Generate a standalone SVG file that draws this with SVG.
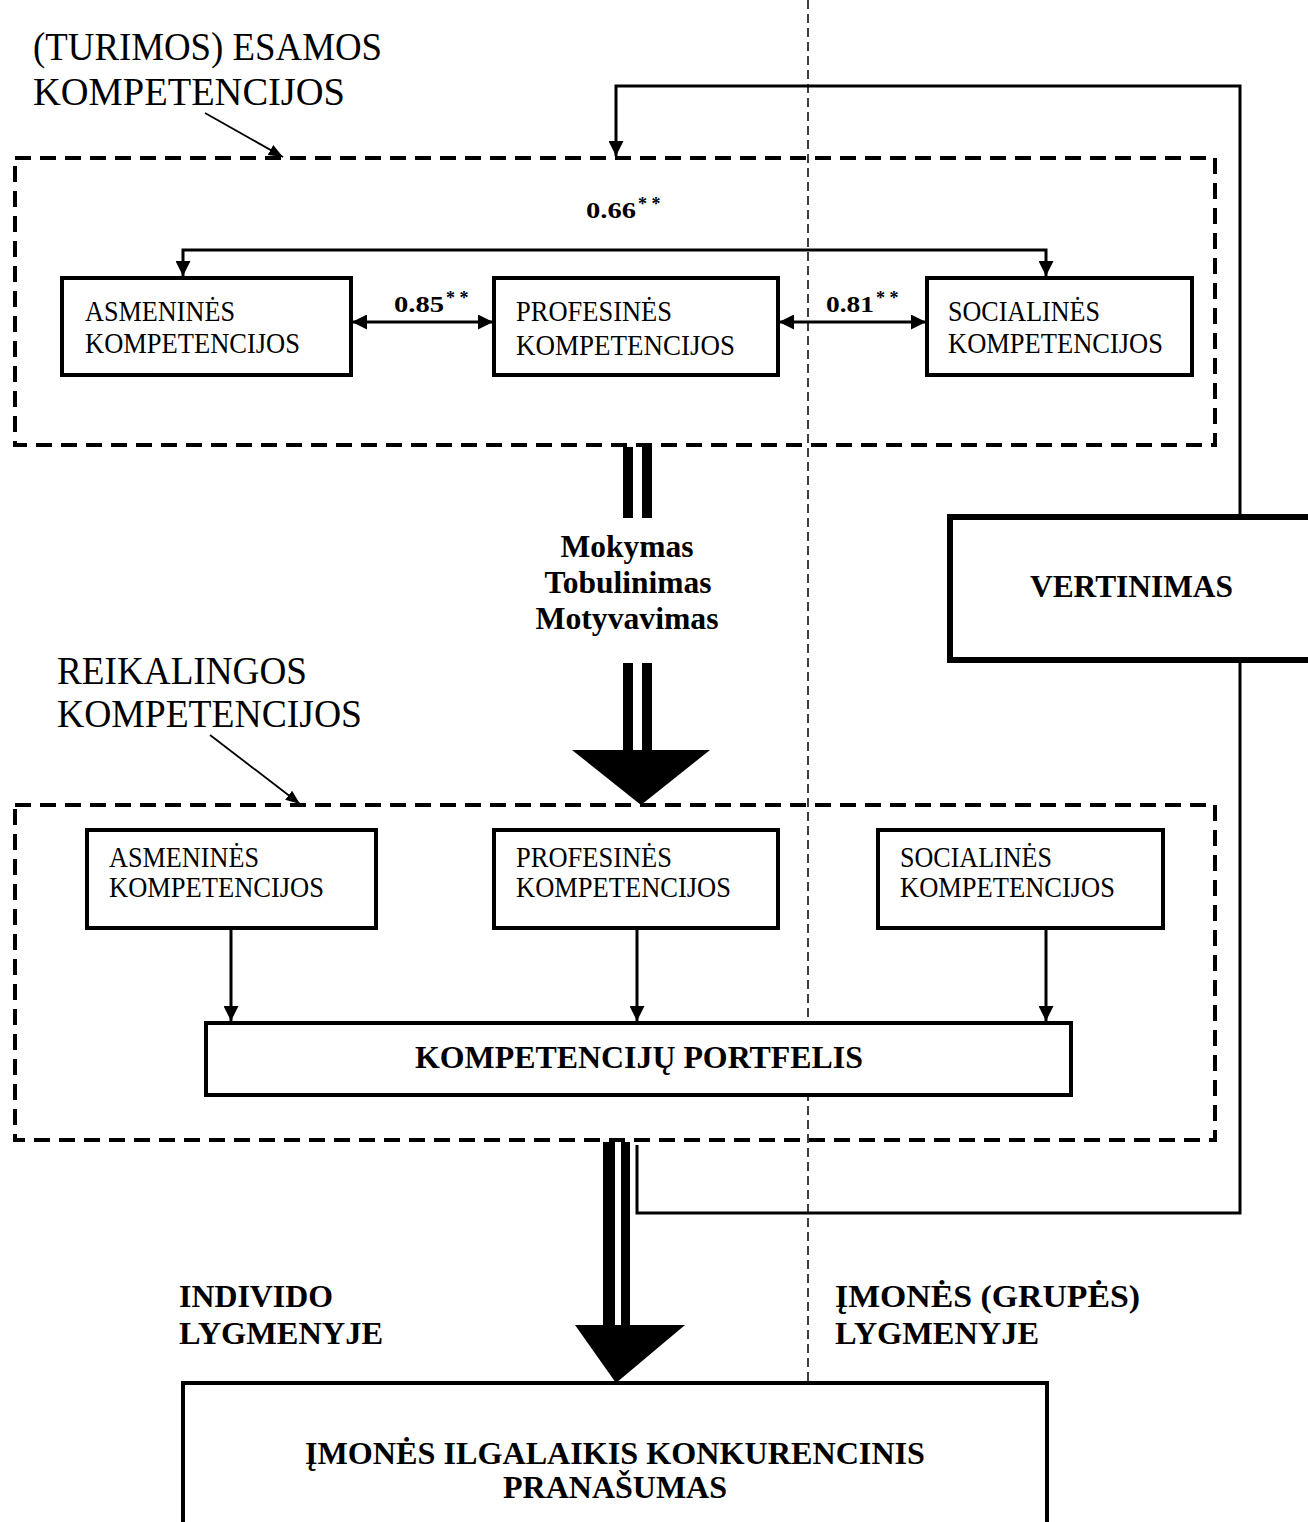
<svg xmlns="http://www.w3.org/2000/svg" width="1308" height="1522" viewBox="0 0 1308 1522">
  <style>
    .bg { fill: #fff; }
    .box { fill: #fff; stroke: #000; stroke-width: 4; }
    .frame { fill: none; stroke: #000; stroke-width: 4; stroke-dasharray: 16 9; }
    .divider { fill: none; stroke: #000; stroke-width: 1.5; stroke-dasharray: 9 5; }
    .line { fill: none; stroke: #000; stroke-width: 3; }
    .thin { fill: none; stroke: #000; stroke-width: 1.8; }
    .bar { fill: #000; }
    .t { font-family: "Liberation Serif", "Times New Roman", serif; fill: #000; }
    .title { font-size: 40px; }
    .lbl { font-size: 29px; }
    .bold { font-weight: bold; }
    .big { font-size: 32px; }
    .num { font-size: 24px; font-weight: bold; }
    .star { font-size: 18px; }
  </style>
  <defs>
    <marker id="arr" viewBox="0 0 10 10" refX="10" refY="5" markerWidth="5" markerHeight="5" markerUnits="strokeWidth" orient="auto-start-reverse">
      <path d="M0,0 L10,5 L0,10 z" fill="#000"/>
    </marker>
    <marker id="arrThin" viewBox="0 0 10 10" refX="10" refY="5" markerWidth="8" markerHeight="8" markerUnits="strokeWidth" orient="auto">
      <path d="M0,1 L10,5 L0,9 z" fill="#000"/>
    </marker>
  </defs>

  <rect class="bg" x="0" y="0" width="1308" height="1522"/>

  <!-- individual / company level divider -->
  <line class="divider" x1="808" y1="0" x2="808" y2="1383"/>

  <!-- group frames -->
  <g id="frame-existing">
    <rect class="frame" x="15" y="158" width="1200" height="287"/>
    <text class="t title" x="33" y="60" textLength="349" lengthAdjust="spacingAndGlyphs">(TURIMOS) ESAMOS</text>
    <text class="t title" x="33" y="105" textLength="312" lengthAdjust="spacingAndGlyphs">KOMPETENCIJOS</text>
  </g>
  <g id="frame-required">
    <rect class="frame" x="15" y="805" width="1200" height="335"/>
    <text class="t title" x="57" y="684" textLength="250" lengthAdjust="spacingAndGlyphs">REIKALINGOS</text>
    <text class="t title" x="57" y="727" textLength="305" lengthAdjust="spacingAndGlyphs">KOMPETENCIJOS</text>
  </g>

  <!-- connectors -->
  <g id="connectors">
    <!-- frame pointers -->
    <line class="thin" x1="205" y1="113" x2="283" y2="157" marker-end="url(#arrThin)"/>
    <line class="thin" x1="210" y1="735" x2="300" y2="804" marker-end="url(#arrThin)"/>

    <!-- 0.66 bracket -->
    <path class="line" d="M183,276 V250 H1046 V276" marker-start="url(#arr)" marker-end="url(#arr)"/>
    <!-- pairwise links -->
    <line class="line" x1="352" y1="322" x2="493" y2="322" marker-start="url(#arr)" marker-end="url(#arr)"/>
    <line class="line" x1="779" y1="322" x2="926" y2="322" marker-start="url(#arr)" marker-end="url(#arr)"/>

    <!-- feedback loop through evaluation -->
    <path class="line" d="M637,1145 V1213 H1240 V86 H616 V156" marker-end="url(#arr)"/>

    <!-- development arrow -->
    <rect class="bar" x="623" y="447" width="10" height="71"/>
    <rect class="bar" x="642" y="447" width="10" height="71"/>
    <rect class="bar" x="623" y="663" width="10" height="90"/>
    <rect class="bar" x="642" y="663" width="10" height="90"/>
    <polygon class="bar" points="572,750 710,750 641,805"/>

    <!-- component arrows into portfolio -->
    <line class="line" x1="231" y1="928" x2="231" y2="1021" marker-end="url(#arr)"/>
    <line class="line" x1="637" y1="928" x2="637" y2="1021" marker-end="url(#arr)"/>
    <line class="line" x1="1046" y1="928" x2="1046" y2="1021" marker-end="url(#arr)"/>

    <!-- outcome arrow -->
    <rect class="bar" x="603" y="1142" width="12" height="185"/>
    <rect class="bar" x="621" y="1142" width="9" height="185"/>
    <polygon class="bar" points="575,1325 685,1325 616,1383"/>
  </g>

  <!-- labels on connectors -->
  <g id="labels">
    <text class="t num" x="586" y="218"><tspan textLength="50" lengthAdjust="spacingAndGlyphs">0.66</tspan><tspan class="star" dy="-8" dx="2">* *</tspan></text>
    <text class="t num" x="394" y="312"><tspan textLength="50" lengthAdjust="spacingAndGlyphs">0.85</tspan><tspan class="star" dy="-8" dx="2">* *</tspan></text>
    <text class="t num" x="826" y="312"><tspan textLength="48" lengthAdjust="spacingAndGlyphs">0.81</tspan><tspan class="star" dy="-8" dx="2">* *</tspan></text>
    <text class="t bold big" text-anchor="middle" x="627" y="557" textLength="133" lengthAdjust="spacingAndGlyphs">Mokymas</text>
    <text class="t bold big" text-anchor="middle" x="628" y="593" textLength="167" lengthAdjust="spacingAndGlyphs">Tobulinimas</text>
    <text class="t bold big" text-anchor="middle" x="627" y="629" textLength="183" lengthAdjust="spacingAndGlyphs">Motyvavimas</text>
    <text class="t bold big" x="179" y="1307" textLength="154" lengthAdjust="spacingAndGlyphs">INDIVIDO</text>
    <text class="t bold big" x="179" y="1344" textLength="204" lengthAdjust="spacingAndGlyphs">LYGMENYJE</text>
    <text class="t bold big" x="835" y="1307" textLength="305" lengthAdjust="spacingAndGlyphs">ĮMONĖS (GRUPĖS)</text>
    <text class="t bold big" x="835" y="1344" textLength="204" lengthAdjust="spacingAndGlyphs">LYGMENYJE</text>
  </g>

  <!-- existing competences -->
  <g id="existing-personal">
    <rect class="box" x="62" y="278" width="289" height="97"/>
    <text class="t lbl" x="85" y="321" textLength="150" lengthAdjust="spacingAndGlyphs">ASMENINĖS</text>
    <text class="t lbl" x="85" y="353" textLength="215" lengthAdjust="spacingAndGlyphs">KOMPETENCIJOS</text>
  </g>
  <g id="existing-professional">
    <rect class="box" x="494" y="278" width="284" height="97"/>
    <text class="t lbl" x="516" y="321" textLength="156" lengthAdjust="spacingAndGlyphs">PROFESINĖS</text>
    <text class="t lbl" x="516" y="355" textLength="219" lengthAdjust="spacingAndGlyphs">KOMPETENCIJOS</text>
  </g>
  <g id="existing-social">
    <rect class="box" x="927" y="278" width="265" height="97"/>
    <text class="t lbl" x="948" y="321" textLength="152" lengthAdjust="spacingAndGlyphs">SOCIALINĖS</text>
    <text class="t lbl" x="948" y="353" textLength="215" lengthAdjust="spacingAndGlyphs">KOMPETENCIJOS</text>
  </g>

  <!-- evaluation -->
  <g id="evaluation">
    <rect class="box" x="950" y="517" width="370" height="143" style="stroke-width:6"/>
    <text class="t bold big" x="1030" y="597" textLength="203" lengthAdjust="spacingAndGlyphs">VERTINIMAS</text>
  </g>

  <!-- required competences -->
  <g id="required-personal">
    <rect class="box" x="87" y="830" width="289" height="98"/>
    <text class="t lbl" x="109" y="867" textLength="150" lengthAdjust="spacingAndGlyphs">ASMENINĖS</text>
    <text class="t lbl" x="109" y="897" textLength="215" lengthAdjust="spacingAndGlyphs">KOMPETENCIJOS</text>
  </g>
  <g id="required-professional">
    <rect class="box" x="494" y="830" width="284" height="98"/>
    <text class="t lbl" x="516" y="867" textLength="156" lengthAdjust="spacingAndGlyphs">PROFESINĖS</text>
    <text class="t lbl" x="516" y="897" textLength="215" lengthAdjust="spacingAndGlyphs">KOMPETENCIJOS</text>
  </g>
  <g id="required-social">
    <rect class="box" x="878" y="830" width="285" height="98"/>
    <text class="t lbl" x="900" y="867" textLength="152" lengthAdjust="spacingAndGlyphs">SOCIALINĖS</text>
    <text class="t lbl" x="900" y="897" textLength="215" lengthAdjust="spacingAndGlyphs">KOMPETENCIJOS</text>
  </g>

  <g id="portfolio">
    <rect class="box" x="206" y="1023" width="865" height="72"/>
    <text class="t bold big" x="415" y="1068" textLength="448" lengthAdjust="spacingAndGlyphs">KOMPETENCIJŲ PORTFELIS</text>
  </g>

  <g id="advantage">
    <rect class="box" x="183" y="1383" width="864" height="160"/>
    <text class="t bold big" x="305" y="1464" textLength="620" lengthAdjust="spacingAndGlyphs">ĮMONĖS ILGALAIKIS KONKURENCINIS</text>
    <text class="t bold big" x="503" y="1498" textLength="224" lengthAdjust="spacingAndGlyphs">PRANAŠUMAS</text>
  </g>
</svg>
